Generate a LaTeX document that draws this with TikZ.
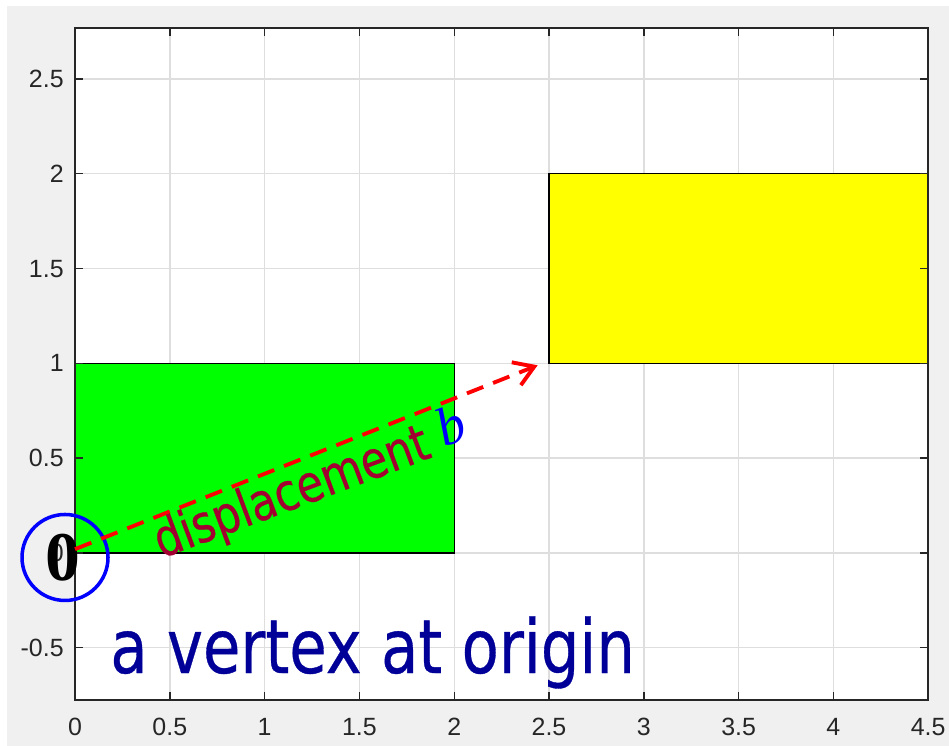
\documentclass[tikz,border=0pt]{standalone}
\usepackage{fontspec}
\usepackage{tikz}
\usetikzlibrary{arrows.meta}
\newfontfamily\tickfont{Liberation Sans}
\newfontfamily\notefont[FakeBold=0.5]{DejaVu Sans}
\newfontfamily\zerofont{Liberation Serif}
\definecolor{figgray}{RGB}{240, 240, 240}
\definecolor{axisdark}{RGB}{38, 38, 38}
\definecolor{gridgray}{RGB}{222, 222, 222}
\definecolor{shapegreen}{RGB}{0, 255, 0}
\definecolor{shapeyellow}{RGB}{255, 255, 0}
\definecolor{labelred}{RGB}{162, 0, 48}
\definecolor{notenavy}{RGB}{0, 0, 153}

\begin{document}
\begin{tikzpicture}[x=3.792cm, y=3.792cm,
    ticklabel/.style={font=\tickfont\fontsize{14.2}{16}\selectfont, text=axisdark, inner sep=0pt},
    gridline/.style={draw=gridgray, line width=0.8pt},
    tickmark/.style={draw=axisdark, line width=0.8pt}]
                % Figure background
                \useasboundingbox (-0.3956,-1.0179) rectangle (4.6097,2.9166);
                \fill[white] (-0.3956,-1.0179) rectangle (4.6097,2.9166);
                \fill[figgray] (-0.3586,-1.0179) rectangle (4.6097,2.885);
                \fill[white] (0,-0.775) rectangle (4.5,2.769);

                % Grid
                \foreach \gx in {0.5,1,...,4} \draw[gridline] (\gx,-0.775) -- (\gx,2.769);
                \foreach \gy in {-0.5,0,...,2.5} \draw[gridline] (0,\gy) -- (4.5,\gy);

                % Rectangles
                \draw[fill=shapegreen, draw=black, line width=0.6pt] (0,0) rectangle (2,1);
                \draw[fill=shapeyellow, draw=black, line width=0.6pt] (2.5,1) rectangle (4.5,2);

                % Axes box and ticks
                \draw[axisdark, line width=1pt] (0,-0.775) rectangle (4.5,2.769);
                \foreach \tx in {0,0.5,...,4.5} {
                    \draw[tickmark] (\tx,-0.775) -- ++(0,0.042);
                    \draw[tickmark] (\tx,2.769) -- ++(0,-0.042);
                }
                \foreach \ty in {-0.5,0,...,2.5} {
                    \draw[tickmark] (0,\ty) -- ++(0.042,0);
                    \draw[tickmark] (4.5,\ty) -- ++(-0.042,0);
                }

                % Tick labels
                \foreach \tx/\lab in {0/0, 0.5/0.5, 1/1, 1.5/1.5, 2/2, 2.5/2.5, 3/3, 3.5/3.5, 4/4, 4.5/4.5}
                    \node[ticklabel] (xl-\lab) at (\tx,-0.918) {\lab};
                \foreach \ty/\lab in {-0.5/-0.5, 0/0, 0.5/0.5, 1/1, 1.5/1.5, 2/2, 2.5/2.5}
                    \node[ticklabel, anchor=east] (yl-\lab) at (-0.058,\ty) {\lab};

                % Vertex at origin
                \node (zero) at (-0.063,-0.026) [inner sep=0pt, font=\zerofont\bfseries\fontsize{39.7}{40}\selectfont] {0};
                \node (ring) at (-0.0527,-0.0237) [circle, draw=blue, line width=2pt, minimum size=1.72cm, inner sep=0pt] {};

                % Displacement arrow
                \coordinate (start) at (0,0.02);
                \coordinate (tip) at (2.44,0.99);
                \draw[red, line width=2.2pt, dash pattern=on 10pt off 6pt,
                    -{Straight Barb[length=11pt, width=14pt, line width=2.2pt]}] (start) -- (tip);
                \node (disp) at (0.455,-0.03) [anchor=base west, rotate=20.5, inner sep=0pt]
                    {\scalebox{0.83}[1]{\notefont\fontsize{29.5}{30}\selectfont\color{labelred}displacement}};
                \node (bvec) at (1.98,0.672) [rotate=21, inner sep=0pt, text=blue]
                    {\zerofont\itshape\fontsize{31}{32}\selectfont b};

                % Note
                \node (note) at (0.1846,-0.633) [anchor=base west, inner sep=0pt]
                    {\scalebox{0.815}[1]{\notefont\fontsize{42.5}{46}\selectfont\color{notenavy}a vertex at origin}};
            \end{tikzpicture}
\end{document}
